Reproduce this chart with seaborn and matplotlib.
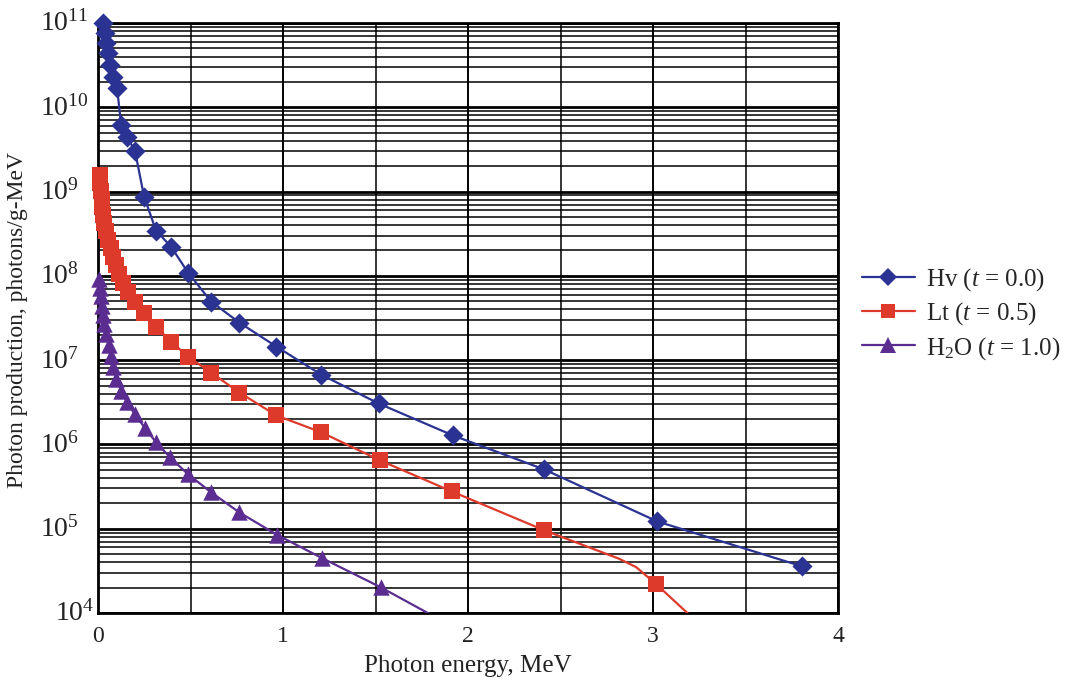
import numpy as np
import pandas as pd
import matplotlib
matplotlib.use("Agg")
import matplotlib.pyplot as plt
import matplotlib.transforms as mtransforms
import seaborn as sns
from matplotlib.lines import Line2D
from matplotlib.ticker import FixedLocator, MultipleLocator, NullFormatter

# ---------------- data ----------------
hv_x = [0.027, 0.038, 0.043, 0.054, 0.065, 0.081, 0.103, 0.125, 0.157, 0.200,
        0.249, 0.314, 0.395, 0.487, 0.612, 0.764, 0.964, 1.208, 1.517, 1.918,
        2.411, 3.023, 3.803]
hv_y = [1.0e11, 7.6e10, 5.8e10, 4.4e10, 3.2e10, 2.29e10, 1.70e10, 6.2e9, 4.46e9, 3.04e9,
        8.7e8, 3.43e8, 2.22e8, 1.09e8, 4.94e7, 2.79e7, 1.45e7, 6.7e6, 3.06e6, 1.28e6,
        5.06e5, 1.22e5, 3.59e4]

lt_x = [0.011, 0.0135, 0.016, 0.019, 0.022, 0.027, 0.033, 0.041, 0.054, 0.068,
        0.081, 0.098, 0.114, 0.135, 0.163, 0.200, 0.249, 0.314, 0.395, 0.487,
        0.612, 0.764, 0.964, 1.208, 1.522, 1.912, 2.411, 3.018]
lt_y = [1.58e9, 1.27e9, 1.02e9, 8.2e8, 6.6e8, 5.3e8, 4.27e8, 3.43e8, 2.69e8, 2.16e8,
        1.69e8, 1.36e8, 1.06e8, 8.3e7, 6.5e7, 4.94e7, 3.66e7, 2.50e7, 1.66e7, 1.10e7,
        7.1e6, 4.13e6, 2.21e6, 1.39e6, 6.5e5, 2.77e5, 9.6e4, 2.19e4]
# points (no marker)
lt_curve_x = [2.817, 2.909]
lt_curve_y = [4.4e4, 3.5e4]
lt_tail_x = [3.33]
lt_tail_y = [5.1e3]

h2o_x = [0.008, 0.0135, 0.016, 0.022, 0.027, 0.035, 0.043, 0.057, 0.070, 0.081,
         0.098, 0.125, 0.157, 0.200, 0.255, 0.314, 0.390, 0.487, 0.612, 0.764,
         0.970, 1.213, 1.528]
h2o_y = [9.3e7, 7.2e7, 5.7e7, 4.4e7, 3.47e7, 2.71e7, 2.07e7, 1.53e7, 1.13e7, 8.4e6,
         6.05e6, 4.36e6, 3.15e6, 2.27e6, 1.55e6, 1.06e6, 7.0e5, 4.42e5, 2.70e5, 1.56e5,
         8.4e4, 4.46e4, 2.02e4]
h2o_tail_x = [2.026]
h2o_tail_y = [5.1e3]

labels = [r'Hv ($t$ = 0.0)', r'Lt ($t$ = 0.5)', r'H$_2$O ($t$ = 1.0)']
colors = ['#2B3392', '#DD3A2C', '#5B2D90']
markers = ['D', 's', '^']

x_ticks = [0, 1, 2, 3, 4]
y_exps = [4, 5, 6, 7, 8, 9, 10, 11]

# ---------------- style ----------------
sns.set_style("white")
plt.rcParams['font.family'] = ['Liberation Serif', 'DejaVu Serif']
plt.rcParams['mathtext.fontset'] = 'custom'
plt.rcParams['mathtext.rm'] = 'Liberation Serif'
plt.rcParams['mathtext.it'] = 'Liberation Serif:italic'
plt.rcParams['mathtext.bf'] = 'Liberation Serif:bold'

W, H = 1073, 681
fig = plt.figure(figsize=(W / 100, H / 100), dpi=100)
ax = fig.add_axes([98 / W, 1 - 613 / H, (838 - 98) / W, (613 - 23) / H])

# lines
lt_all = sorted(zip(lt_x + lt_curve_x + lt_tail_x, lt_y + lt_curve_y + lt_tail_y))
line_sets = [
    (hv_x, hv_y),
    ([p[0] for p in lt_all], [p[1] for p in lt_all]),
    (h2o_x + h2o_tail_x, h2o_y + h2o_tail_y),
]
for (lx, ly), c in zip(line_sets, colors):
    df = pd.DataFrame({'x': lx, 'y': ly})
    sns.lineplot(data=df, x='x', y='y', ax=ax, color=c, lw=1.6, sort=False,
                 estimator=None, zorder=3)

mk_sets = [(hv_x, hv_y, 105), (lt_x, lt_y, 125), (h2o_x, h2o_y, 140)]
for (mx, my, s), c, m in zip(mk_sets, colors, markers):
    df = pd.DataFrame({'x': mx, 'y': my})
    sns.scatterplot(data=df, x='x', y='y', ax=ax, color=c, marker=m, s=s,
                    edgecolor=c, linewidth=0, zorder=4, clip_on=False)

ax.set_yscale('log')
ax.set_xlim(0, 4)
ax.set_ylim(1e4, 1e11)

ax.xaxis.set_major_locator(FixedLocator(x_ticks))
ax.xaxis.set_minor_locator(MultipleLocator(0.5))
ax.set_xticklabels([str(t) for t in x_ticks])
ax.yaxis.set_major_locator(FixedLocator([10.0 ** e for e in y_exps]))
minors = [m * 10.0 ** e for e in y_exps[:-1] for m in range(2, 10)]
ax.yaxis.set_minor_locator(FixedLocator(minors))
ax.yaxis.set_minor_formatter(NullFormatter())
ax.set_yticklabels([])

ax.grid(True, which='major', axis='x', color='black', lw=1.4)
ax.grid(True, which='minor', axis='x', color='black', lw=1.1)
ax.grid(True, which='major', axis='y', color='black', lw=2.0)
ax.grid(True, which='minor', axis='y', color='black', lw=1.1)
ax.set_axisbelow(True)

ax.tick_params(axis='both', which='both', length=0, labelsize=17, colors='#222222')
ax.tick_params(axis='x', pad=9)
for sp in ax.spines.values():
    sp.set_color('black')
    sp.set_linewidth(2.0)
    sp.set_visible(True)

# y tick labels as left-aligned text (10 with raised exponent)
blend = mtransforms.blended_transform_factory(fig.transFigure, ax.transData)
for e in y_exps:
    xpix = 55 if e == 4 else 40
    tr = mtransforms.offset_copy(blend, fig=fig, x=0, y=-8, units='dots')
    fig.text(xpix / W, 10.0 ** e, r'$10^{%d}$' % e, transform=tr, ha='left',
             va='baseline', fontsize=20, color='#222222')

ax.set_xlabel('Photon energy, MeV', fontsize=18, labelpad=6, color='#222222')
ax.set_ylabel('')
fig.text(18 / W, 1 - 320 / H, 'Photon production, photons/g-MeV', rotation=90,
         ha='center', va='center', fontsize=17, color='#222222')

handles = [Line2D([0], [0], color=c, lw=1.6, marker=m, markersize=ms, markeredgewidth=0)
           for c, m, ms in zip(colors, markers, [9, 10, 11])]
fig.legend(handles, labels, loc='upper left', bbox_to_anchor=(862 / W, 1 - 266 / H),
           frameon=False, fontsize=18, handlelength=2.1, handletextpad=0.45,
           labelspacing=0.3, borderaxespad=0, borderpad=0)

fig.savefig('out.png', dpi=100)
